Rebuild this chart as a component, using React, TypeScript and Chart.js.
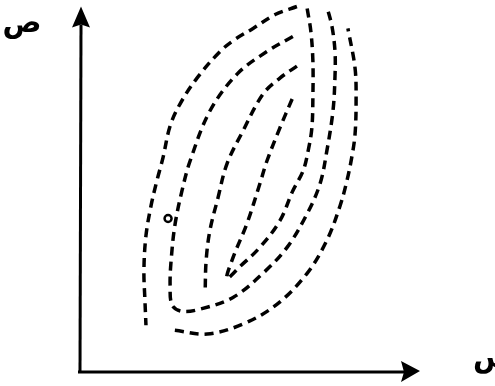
import React, { useEffect, useRef } from "react";
import { Chart, registerables } from "chart.js";

Chart.register(...registerables);

// Axis labels (Arabic)
const yAxisLabel = "ص";
const xAxisLabel = "س";

// Curves, in axis units (x: 0..10, y: 0..10); null = gap in the dashed curve
const outerCurve: ([number, number] | null)[] = [
  [6.38, 10.0], [5.74, 9.78], [5.09, 9.4], [4.56, 9.1], [4.12, 8.77], [3.44, 8.04],
  [2.94, 7.33], [2.65, 6.73], [2.44, 5.86], [2.26, 5.23], [2.09, 4.55], [1.94, 3.73],
  [1.88, 2.78], [1.91, 1.96], [1.94, 1.28],
  null,
  [2.79, 1.14], [3.74, 1.04], [4.79, 1.31], [5.79, 1.85], [6.68, 2.7], [7.26, 3.6],
  [7.65, 4.55], [7.85, 5.23], [8.0, 5.91], [8.09, 6.51], [8.12, 7.41], [8.09, 8.31],
  [7.88, 9.4],
];

const middleCurve: [number, number][] = [
  [6.26, 9.18], [5.5, 8.77], [4.62, 8.15], [3.82, 7.14], [3.24, 5.78], [3.0, 4.96],
  [2.79, 4.01], [2.68, 3.05], [2.65, 2.37], [2.71, 1.83], [3.0, 1.66], [3.53, 1.72],
  [4.5, 2.04], [5.38, 2.7], [6.09, 3.41], [6.68, 4.33], [7.06, 5.15], [7.26, 6.05],
  [7.44, 7.14], [7.5, 8.09], [7.5, 8.77], [7.41, 9.46], [7.26, 10.0],
];

const thirdArc: [number, number][] = [
  [6.38, 8.37], [5.88, 8.04], [5.38, 7.6], [4.79, 6.59], [4.32, 5.69], [4.06, 4.77],
  [3.82, 3.87], [3.71, 3.05], [3.68, 2.15],
];

const innerCurve: [number, number][] = [
  [6.24, 7.47], [5.88, 6.68], [5.5, 5.78], [5.29, 5.15], [4.91, 4.06], [4.5, 3.13],
  [4.32, 2.56], [4.71, 2.89], [5.29, 3.41], [5.88, 4.14], [6.26, 4.96], [6.56, 5.5],
  [6.71, 6.05], [6.82, 6.68], [6.85, 7.55], [6.85, 8.5], [6.79, 9.32], [6.68, 9.95],
];

const markedPoint: [number, number][] = [[2.59, 4.2]];

const toXY = (arr: ([number, number] | null)[]) =>
  arr.map((p) => (p ? { x: p[0], y: p[1] } : { x: null as any, y: null as any }));

const axesPlugin = {
  id: "arrowAxes",
  afterDraw(chart: any) {
    const { ctx, scales } = chart;
    const xs = scales.x;
    const ys = scales.y;
    const x0 = xs.getPixelForValue(0);
    const y0 = ys.getPixelForValue(0);
    const top = ys.getPixelForValue(10);
    const right = xs.getPixelForValue(10);
    ctx.save();
    ctx.strokeStyle = "#000";
    ctx.fillStyle = "#000";
    ctx.lineWidth = 3;
    ctx.lineCap = "butt";
    // y axis
    ctx.beginPath();
    ctx.moveTo(x0, y0 + 1);
    ctx.lineTo(x0 + 1, top + 18);
    ctx.stroke();
    ctx.beginPath();
    ctx.moveTo(x0 + 1, top);
    ctx.lineTo(x0 - 8, top + 21);
    ctx.lineTo(x0 + 1, top + 18);
    ctx.lineTo(x0 + 10, top + 21);
    ctx.closePath();
    ctx.fill();
    // x axis
    ctx.beginPath();
    ctx.moveTo(x0 - 2, y0);
    ctx.lineTo(right - 16, y0);
    ctx.stroke();
    ctx.beginPath();
    ctx.moveTo(right, y0 - 1);
    ctx.lineTo(right - 19, y0 - 11);
    ctx.lineTo(right - 16, y0);
    ctx.lineTo(right - 19, y0 + 10);
    ctx.closePath();
    ctx.fill();
    // labels
    ctx.font = "bold 29px 'DejaVu Sans'";
    ctx.textBaseline = "alphabetic";
    ctx.textAlign = "center";
    ctx.fillText(yAxisLabel, x0 - 58, top + 25);
    ctx.textAlign = "left";
    ctx.fillText(xAxisLabel, right + 53, y0 - 5);
    ctx.restore();
  },
};

export default function App() {
  const ref = useRef<HTMLCanvasElement | null>(null);
  useEffect(() => {
    if (!ref.current) return;
    const curveStyle = {
      borderColor: "#000",
      borderWidth: 3.5,
      borderDash: [9, 6],
      pointRadius: 0,
      showLine: true,
      tension: 0.35,
      fill: false,
      spanGaps: false,
    };
    const chart = new Chart(ref.current, {
      type: "scatter",
      data: {
        datasets: [
          { ...curveStyle, data: toXY(outerCurve) },
          { ...curveStyle, data: toXY(middleCurve) },
          { ...curveStyle, data: toXY(thirdArc) },
          { ...curveStyle, data: toXY(innerCurve) },
          {
            data: toXY(markedPoint),
            showLine: false,
            pointRadius: 3.5,
            pointBorderWidth: 2.5,
            pointBorderColor: "#000",
            pointBackgroundColor: "#fff",
          },
        ],
      },
      options: {
        responsive: false,
        animation: false,
        layout: { padding: { left: 80, right: 75, top: 5, bottom: 14 } },
        plugins: { legend: { display: false }, tooltip: { enabled: false } },
        scales: {
          x: { type: "linear", min: 0, max: 10, display: false },
          y: { type: "linear", min: 0, max: 10, display: false },
        },
        clip: false as any,
      },
      plugins: [axesPlugin],
    });
    return () => chart.destroy();
  }, []);
  return (
    <div style={{ position: "absolute", left: 0, top: 0, width: 495, height: 386, background: "#fff" }}>
      <canvas ref={ref} width={495} height={386} style={{ display: "block" }} />
    </div>
  );
}
